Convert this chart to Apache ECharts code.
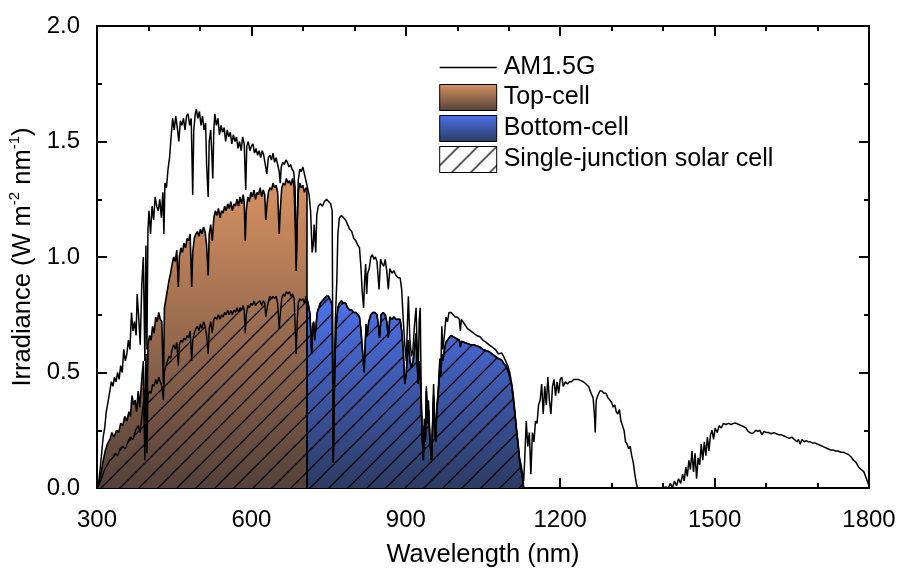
<!DOCTYPE html>
<html>
<head>
<meta charset="utf-8">
<script src="https://cdn.jsdelivr.net/npm/echarts@6/dist/echarts.min.js"></script>
<style>
  html, body { margin: 0; padding: 0; background: #fff; }
  #chart { width: 899px; height: 570px; }
</style>
</head>
<body>
<div id="chart"></div>
<script>
// ---- Data: [wavelength (nm), spectral irradiance (W m^-2 nm^-1)] ----
const am15g = [
  [300,0],[303,0.02],[306,0.08],[309,0.15],[312,0.22],[315,0.26],[318,0.33],[322,0.38],[325,0.42],[328,0.46],
  [331,0.44],[334,0.48],[337,0.46],[340,0.5],[343,0.47],[346,0.53],[349,0.5],[352,0.6],[355,0.55],[358,0.58],
  [361,0.64],[364,0.6],[367,0.76],[370,0.68],[373,0.72],[376,0.66],[378,0.84],[381,0.74],[384,0.62],[387,0.88],
  [390,1.0],[393,0.55],[395,1.05],[397,0.6],[399,1.12],[401,1.2],[404,1.1],[407,1.22],[410,1.16],[413,1.26],
  [416,1.22],[419,1.2],[422,1.25],[425,1.17],[428,1.28],[430,1.1],[432,1.32],[435,1.3],[438,1.38],[441,1.43],
  [444,1.52],[447,1.6],[450,1.55],[453,1.61],[456,1.56],[459,1.5],[462,1.59],[465,1.57],[468,1.6],[471,1.55],
  [474,1.61],[477,1.62],[480,1.57],[483,1.6],[486,1.27],[488,1.55],[491,1.62],[493,1.64],[496,1.6],[499,1.63],
  [502,1.57],[505,1.61],[508,1.55],[511,1.58],[513,1.4],[516,1.26],[518,1.5],[521,1.55],[523,1.45],[525,1.34],
  [527,1.55],[529,1.62],[532,1.57],[535,1.6],[538,1.53],[541,1.57],[544,1.54],[547,1.56],[550,1.5],[553,1.55],
  [556,1.52],[559,1.54],[562,1.49],[565,1.53],[568,1.5],[571,1.52],[574,1.47],[577,1.5],[580,1.46],[583,1.52],
  [586,1.49],[589,1.29],[591,1.48],[594,1.5],[597,1.46],[600,1.48],[603,1.49],[606,1.45],[609,1.47],[612,1.44],
  [615,1.46],[618,1.43],[621,1.46],[624,1.44],[627,1.4],[630,1.36],[633,1.43],[636,1.44],[639,1.42],[642,1.45],
  [645,1.41],[648,1.43],[651,1.4],[654,1.37],[656,1.32],[658,1.39],[661,1.41],[664,1.4],[667,1.42],[670,1.41],
  [673,1.39],[676,1.4],[679,1.38],[682,1.37],[685,1.3],[687,0.97],[689,1.15],[691,1.33],[694,1.38],[697,1.37],
  [700,1.39],[703,1.36],[706,1.33],[709,1.3],[712,1.27],[715,1.2],[718,1.02],[720,1.05],[722,1.14],[725,1.02],
  [727,1.18],[730,1.22],[734,1.23],[738,1.22],[742,1.24],[746,1.25],[750,1.24],[754,1.23],[757,1.2],[759,0.11],
  [761,0.5],[763,0.72],[766,0.9],[768,1.1],[771,1.17],[775,1.18],[779,1.17],[783,1.16],[787,1.14],[791,1.12],
  [795,1.11],[799,1.08],[803,1.07],[807,1.05],[810,1.04],[813,0.95],[815,0.86],[818,0.78],[820,0.9],[822,0.97],
  [824,0.84],[826,0.93],[829,0.95],[832,1.0],[835,1.01],[838,0.99],[841,1.0],[844,0.98],[846,0.92],[848,0.86],
  [851,0.99],[854,0.97],[857,0.96],[860,0.99],[863,0.94],[866,0.86],[869,0.95],[873,0.93],[877,0.94],[881,0.92],
  [885,0.91],[889,0.91],[892,0.86],[895,0.73],[898,0.62],[901,0.55],[903,0.7],[905,0.83],[908,0.64],[911,0.57],
  [914,0.6],[917,0.71],[920,0.78],[922,0.6],[924,0.47],[926,0.72],[928,0.78],[930,0.4],[932,0.25],[934,0.14],
  [936,0.3],[938,0.22],[940,0.44],[942,0.3],[944,0.38],[947,0.22],[950,0.12],[952,0.28],[954,0.45],[956,0.3],
  [958,0.21],[960,0.35],[963,0.42],[966,0.56],[968,0.5],[970,0.7],[972,0.6],[975,0.66],[978,0.74],[981,0.72],
  [984,0.76],[988,0.76],[992,0.75],[996,0.74],[1000,0.74],[1004,0.73],[1006,0.68],[1008,0.73],[1014,0.71],[1020,0.69],
  [1026,0.68],[1032,0.67],[1038,0.66],[1044,0.655],[1050,0.64],[1056,0.63],[1062,0.62],[1068,0.61],[1074,0.6],[1080,0.58],
  [1086,0.585],[1090,0.57],[1094,0.55],[1098,0.53],[1102,0.5],[1106,0.45],[1109,0.4],[1112,0.33],[1115,0.26],[1118,0.2],
  [1121,0.13],[1124,0.1],[1127,0.06],[1129,0.03],[1131,0.12],[1134,0.29],[1137,0.18],[1140,0.24],[1143,0.06],[1146,0.24],
  [1149,0.2],[1152,0.29],[1155,0.28],[1158,0.36],[1161,0.38],[1164,0.45],[1167,0.32],[1170,0.44],[1173,0.36],[1176,0.48],
  [1179,0.38],[1182,0.32],[1185,0.44],[1188,0.47],[1191,0.4],[1194,0.46],[1197,0.41],[1200,0.47],[1203,0.48],[1206,0.44],
  [1210,0.46],[1214,0.45],[1218,0.46],[1222,0.46],[1226,0.47],[1230,0.47],[1235,0.47],[1240,0.465],[1245,0.46],[1250,0.45],
  [1255,0.44],[1260,0.41],[1264,0.39],[1267,0.3],[1268,0.24],[1270,0.38],[1273,0.4],[1277,0.42],[1281,0.42],[1285,0.41],
  [1289,0.41],[1293,0.39],[1297,0.38],[1300,0.37],[1303,0.35],[1306,0.36],[1309,0.33],[1312,0.32],[1315,0.34],[1318,0.29],
  [1321,0.27],[1324,0.25],[1327,0.2],[1330,0.19],[1333,0.17],[1336,0.18],[1339,0.14],[1342,0.11],[1345,0.06],[1348,0.02],
  [1350,0],[1400,0],[1405,0.005],[1410,0],[1414,0.02],[1418,0],[1422,0.03],[1426,0.01],[1430,0.04],[1434,0.02],
  [1438,0.06],[1441,0.03],[1444,0.09],[1447,0.05],[1450,0.12],[1453,0.08],[1456,0.16],[1459,0.07],[1462,0.15],[1465,0.04],
  [1468,0.13],[1471,0.1],[1474,0.19],[1477,0.12],[1480,0.2],[1483,0.14],[1486,0.22],[1489,0.16],[1492,0.23],[1495,0.25],
  [1498,0.21],[1501,0.26],[1505,0.24],[1509,0.27],[1513,0.26],[1517,0.28],[1522,0.275],[1527,0.28],[1532,0.275],[1537,0.28],
  [1542,0.28],[1547,0.275],[1552,0.27],[1557,0.265],[1561,0.26],[1565,0.245],[1568,0.25],[1572,0.235],[1576,0.24],[1580,0.25],
  [1584,0.245],[1588,0.25],[1592,0.23],[1596,0.245],[1600,0.24],[1605,0.24],[1610,0.235],[1615,0.24],[1620,0.235],[1625,0.23],
  [1630,0.23],[1635,0.225],[1640,0.22],[1645,0.215],[1650,0.22],[1655,0.21],[1660,0.2],[1663,0.21],[1666,0.19],[1670,0.21],
  [1674,0.2],[1678,0.205],[1682,0.2],[1686,0.2],[1690,0.195],[1695,0.195],[1700,0.19],[1705,0.185],[1710,0.18],[1715,0.175],
  [1720,0.17],[1725,0.165],[1730,0.165],[1735,0.16],[1740,0.16],[1745,0.155],[1750,0.155],[1755,0.15],[1760,0.145],[1765,0.135],
  [1770,0.12],[1775,0.11],[1780,0.09],[1785,0.08],[1790,0.07],[1795,0.04],[1800,0.01]
];

// Photocurrent-weighted spectrum absorbed by the top cell (up to its cut-off)
const topCell = [
  [300,0],[304,0.02],[308,0.07],[312,0.12],[316,0.16],[320,0.19],[325,0.21],[329,0.24],[333,0.22],[338,0.25],
  [342,0.24],[346,0.28],[350,0.27],[354,0.31],[358,0.29],[362,0.33],[365,0.31],[368,0.4],[371,0.36],[374,0.38],
  [377,0.33],[380,0.42],[383,0.35],[387,0.47],[390,0.55],[393,0.18],[395,0.58],[397,0.25],[399,0.62],[402,0.66],
  [405,0.64],[408,0.7],[411,0.67],[414,0.74],[417,0.72],[420,0.76],[423,0.73],[426,0.72],[429,0.45],[431,0.78],
  [434,0.82],[437,0.86],[440,0.9],[443,0.93],[446,0.97],[449,1.0],[452,0.98],[455,1.03],[458,0.87],[460,1.0],
  [463,1.04],[466,1.02],[469,1.06],[472,1.04],[475,1.08],[478,1.07],[481,1.1],[484,0.87],[486,1.02],[489,1.08],
  [492,1.1],[495,1.11],[498,1.09],[501,1.12],[504,1.1],[507,1.13],[510,1.11],[513,1.05],[516,0.92],[518,1.1],
  [521,1.14],[524,1.07],[527,1.17],[530,1.2],[533,1.18],[536,1.21],[539,1.17],[542,1.2],[545,1.19],[548,1.22],
  [551,1.2],[554,1.23],[557,1.21],[560,1.24],[563,1.2],[566,1.23],[569,1.22],[572,1.25],[575,1.22],[578,1.26],
  [581,1.23],[584,1.27],[586,1.24],[588,1.07],[590,1.2],[593,1.26],[596,1.24],[599,1.28],[602,1.26],[605,1.29],
  [608,1.25],[611,1.28],[614,1.27],[617,1.3],[620,1.26],[623,1.29],[626,1.27],[628,1.16],[630,1.22],[633,1.28],
  [636,1.3],[639,1.29],[642,1.32],[645,1.3],[648,1.31],[651,1.28],[654,1.1],[656,1.2],[659,1.3],[662,1.32],
  [665,1.31],[668,1.34],[671,1.32],[674,1.33],[677,1.31],[680,1.34],[683,1.3],[685,1.15],[687,0.94],[689,1.15],
  [691,1.28],[694,1.32],[697,1.3],[700,1.31],[703,1.28],[706,1.3],[708,1.29],[708,0]
];

// Photocurrent-weighted spectrum of the single-junction cell below the top-cell cut-off
const singleJunction = [
  [300,0],[305,0.02],[310,0.05],[315,0.08],[320,0.1],[325,0.12],[330,0.13],[335,0.15],[340,0.14],[345,0.17],
  [350,0.18],[355,0.17],[360,0.2],[365,0.22],[370,0.21],[375,0.25],[380,0.27],[384,0.24],[388,0.33],[391,0.38],
  [393,0.12],[395,0.39],[397,0.15],[399,0.4],[402,0.42],[405,0.41],[408,0.45],[411,0.44],[414,0.47],[417,0.45],
  [420,0.48],[423,0.46],[426,0.44],[429,0.38],[431,0.5],[434,0.53],[437,0.55],[440,0.57],[443,0.56],[446,0.6],
  [449,0.62],[452,0.6],[455,0.63],[458,0.53],[460,0.62],[463,0.64],[466,0.63],[469,0.65],[472,0.64],[475,0.66],
  [478,0.65],[481,0.68],[484,0.55],[486,0.64],[489,0.67],[492,0.69],[495,0.7],[498,0.68],[501,0.71],[504,0.69],
  [507,0.72],[510,0.7],[513,0.66],[516,0.58],[518,0.69],[521,0.72],[524,0.67],[527,0.73],[530,0.74],[533,0.73],
  [536,0.75],[539,0.73],[542,0.75],[545,0.74],[548,0.76],[551,0.75],[554,0.77],[557,0.75],[560,0.77],[563,0.75],
  [566,0.77],[569,0.76],[572,0.78],[575,0.76],[578,0.78],[581,0.77],[584,0.79],[586,0.77],[588,0.67],[590,0.75],
  [593,0.79],[596,0.78],[599,0.8],[602,0.79],[605,0.81],[608,0.79],[611,0.8],[614,0.8],[617,0.81],[620,0.79],
  [623,0.81],[626,0.8],[628,0.74],[630,0.77],[633,0.81],[636,0.83],[639,0.82],[642,0.83],[645,0.82],[648,0.83],
  [651,0.8],[654,0.69],[656,0.75],[659,0.82],[662,0.84],[665,0.83],[668,0.85],[671,0.84],[674,0.85],[677,0.83],
  [680,0.84],[683,0.82],[685,0.7],[687,0.58],[689,0.72],[691,0.8],[694,0.82],[697,0.81],[700,0.82],[703,0.8],
  [706,0.83],[708,0.82]
];

// Photocurrent-weighted spectrum absorbed by the bottom cell
const bottomCell = [
  [708,0],[708,0.82],[711,0.79],[714,0.75],[717,0.58],[719,0.7],[721,0.72],[723,0.64],[725,0.69],[728,0.76],
  [731,0.78],[734,0.8],[738,0.81],[742,0.82],[746,0.83],[750,0.83],[754,0.81],[757,0.79],[759,0.11],[761,0.4],
  [763,0.6],[765,0.71],[768,0.78],[771,0.8],[775,0.81],[779,0.8],[783,0.8],[787,0.78],[791,0.77],[795,0.77],
  [799,0.76],[803,0.76],[807,0.75],[810,0.74],[813,0.68],[815,0.62],[817,0.56],[819,0.5],[821,0.62],[823,0.71],
  [825,0.66],[828,0.72],[832,0.75],[836,0.76],[840,0.76],[844,0.75],[847,0.7],[849,0.65],[852,0.75],[856,0.76],
  [860,0.75],[863,0.72],[866,0.65],[869,0.74],[873,0.73],[877,0.74],[881,0.73],[885,0.73],[889,0.73],[892,0.68],
  [895,0.6],[898,0.45],[901,0.5],[903,0.58],[905,0.64],[908,0.55],[911,0.52],[914,0.55],[917,0.6],[920,0.67],
  [922,0.55],[924,0.45],[926,0.55],[928,0.5],[930,0.35],[932,0.22],[934,0.12],[936,0.27],[938,0.2],[940,0.42],
  [942,0.28],[944,0.34],[947,0.2],[950,0.12],[952,0.26],[954,0.4],[956,0.28],[958,0.2],[960,0.32],[963,0.41],
  [966,0.52],[968,0.48],[970,0.58],[972,0.55],[975,0.6],[978,0.63],[981,0.64],[984,0.65],[988,0.66],[992,0.655],
  [996,0.65],[1000,0.645],[1004,0.64],[1006,0.61],[1008,0.635],[1014,0.63],[1020,0.625],[1026,0.62],[1032,0.62],[1038,0.615],
  [1044,0.61],[1050,0.6],[1056,0.595],[1062,0.59],[1068,0.58],[1074,0.57],[1080,0.56],[1086,0.555],[1090,0.54],[1094,0.53],
  [1098,0.51],[1102,0.48],[1106,0.44],[1109,0.38],[1112,0.32],[1115,0.25],[1118,0.19],[1121,0.12],[1124,0.08],[1127,0.04],
  [1129,0]
];

const xTicks = { min: 300, max: 1800, step: 300 };
const yTicks = { min: 0, max: 2, step: 0.5 };
const names = ['AM1.5G', 'Top-cell', 'Bottom-cell', 'Single-junction solar cell'];

// ---- Styling helpers ----
const FONT = "'Liberation Sans', Arial, sans-serif";

function hatchCanvas(step) {
  const c = document.createElement('canvas');
  c.width = step; c.height = step;
  const g = c.getContext('2d');
  g.strokeStyle = '#000';
  g.lineWidth = 1.25;
  g.beginPath();
  g.moveTo(-1, step + 1); g.lineTo(step + 1, -1);
  g.moveTo(-2, 2); g.lineTo(2, -2);
  g.moveTo(step - 2, step + 2); g.lineTo(step + 2, step - 2);
  g.stroke();
  return c;
}
const hatch = { image: hatchCanvas(19), repeat: 'repeat' };

function vGrad(top, bottom) {
  return { type: 'linear', x: 0, y: 0, x2: 0, y2: 1,
    colorStops: [{ offset: 0, color: top }, { offset: 1, color: bottom }] };
}
const orangeFill = vGrad('#d99262', '#54413a');
const blueFill = vGrad('#4d72ec', '#2c3b62');

function frameAxis(position, showLabel, extra) {
  return Object.assign({
    type: 'value',
    position: position,
    splitLine: { show: false },
    axisLine: { show: true, onZero: false, lineStyle: { color: '#000', width: 2 } },
    axisTick: { show: true, inside: true, length: 10, lineStyle: { color: '#000', width: 2 } },
    minorTick: { show: true, length: 5, lineStyle: { color: '#000', width: 2 } },
    axisLabel: { show: showLabel, color: '#000', fontSize: 24, fontFamily: FONT }
  }, extra);
}

const chart = echarts.init(document.getElementById('chart'), null, { renderer: 'canvas' });

chart.setOption({
  animation: false,
  backgroundColor: '#fff',
  textStyle: { fontFamily: FONT },
  grid: { left: 97, right: 30, top: 26, bottom: 82, containLabel: false, outerBoundsMode: 'none' },
  legend: {
    orient: 'vertical',
    left: 439,
    top: 55,
    padding: 0,
    itemWidth: 57,
    itemHeight: 26,
    itemGap: 4,
    selectedMode: false,
    textStyle: { fontSize: 25, color: '#000', fontFamily: FONT, padding: [0, 0, 0, 2] },
    data: [
      { name: names[0], itemStyle: { color: 'rgba(0,0,0,0)', borderWidth: 0 },
        lineStyle: { color: '#000', width: 1.4 } },
      { name: names[1], icon: 'rect', itemStyle: { color: orangeFill, borderColor: '#000', borderWidth: 1 } },
      { name: names[2], icon: 'rect', itemStyle: { color: blueFill, borderColor: '#000', borderWidth: 1 } },
      { name: names[3], icon: 'rect', itemStyle: { color: hatch, borderColor: '#000', borderWidth: 1 } }
    ]
  },
  xAxis: [
    frameAxis('bottom', true, {
      min: xTicks.min, max: xTicks.max, interval: xTicks.step,
      minorTick: { show: true, splitNumber: 3, length: 5, lineStyle: { color: '#000', width: 2 } },
      axisLabel: { show: true, color: '#000', fontSize: 24, fontFamily: FONT, margin: 20,
        formatter: v => String(v) },
      name: 'Wavelength (nm)', nameLocation: 'middle', nameGap: 54,
      nameTextStyle: { fontSize: 25.5, color: '#000', fontFamily: FONT }
    }),
    frameAxis('top', false, {
      min: xTicks.min, max: xTicks.max, interval: xTicks.step,
      minorTick: { show: true, splitNumber: 3, length: 5, lineStyle: { color: '#000', width: 2 } }
    })
  ],
  yAxis: [
    frameAxis('left', true, {
      min: yTicks.min, max: yTicks.max, interval: yTicks.step,
      minorTick: { show: true, splitNumber: 2, length: 5, lineStyle: { color: '#000', width: 2 } },
      axisLabel: { show: true, color: '#000', fontSize: 24, fontFamily: FONT, margin: 17,
        formatter: v => v.toFixed(1) },
      name: '{n|Irradiance (W m}{s|-2}{n| nm}{s|-1}{n|)}',
      nameLocation: 'middle', nameGap: 56, nameRotate: 90,
      nameTextStyle: {
        color: '#000', fontFamily: FONT,
        rich: {
          n: { fontSize: 25.5, lineHeight: 30, color: '#000', fontFamily: FONT },
          s: { fontSize: 15, lineHeight: 20, verticalAlign: 'top', color: '#000', fontFamily: FONT }
        }
      }
    }),
    frameAxis('right', false, {
      min: yTicks.min, max: yTicks.max, interval: yTicks.step,
      minorTick: { show: true, splitNumber: 2, length: 5, lineStyle: { color: '#000', width: 2 } }
    })
  ],
  series: [
    {
      name: names[1], type: 'line', data: topCell, symbol: 'none', silent: true,
      itemStyle: { color: '#c98758' },
      lineStyle: { color: '#000', width: 1.6 },
      areaStyle: { color: orangeFill, opacity: 1 }
    },
    {
      name: names[2], type: 'line', data: bottomCell, symbol: 'none', silent: true,
      itemStyle: { color: '#4a6de3' },
      lineStyle: { color: '#000', width: 1.6 },
      areaStyle: { color: blueFill, opacity: 1 }
    },
    {
      name: names[3], type: 'line', symbol: 'none', silent: true,
      data: singleJunction.concat(bottomCell.slice(2)),
      itemStyle: { color: '#000' },
      lineStyle: { color: '#000', width: 1.4 },
      areaStyle: { color: hatch, opacity: 1 }
    },
    {
      name: names[0], type: 'line', data: am15g, symbol: 'none', silent: true,
      itemStyle: { color: '#000' },
      lineStyle: { color: '#000', width: 1.5 }
    }
  ]
});
</script>
</body>
</html>
